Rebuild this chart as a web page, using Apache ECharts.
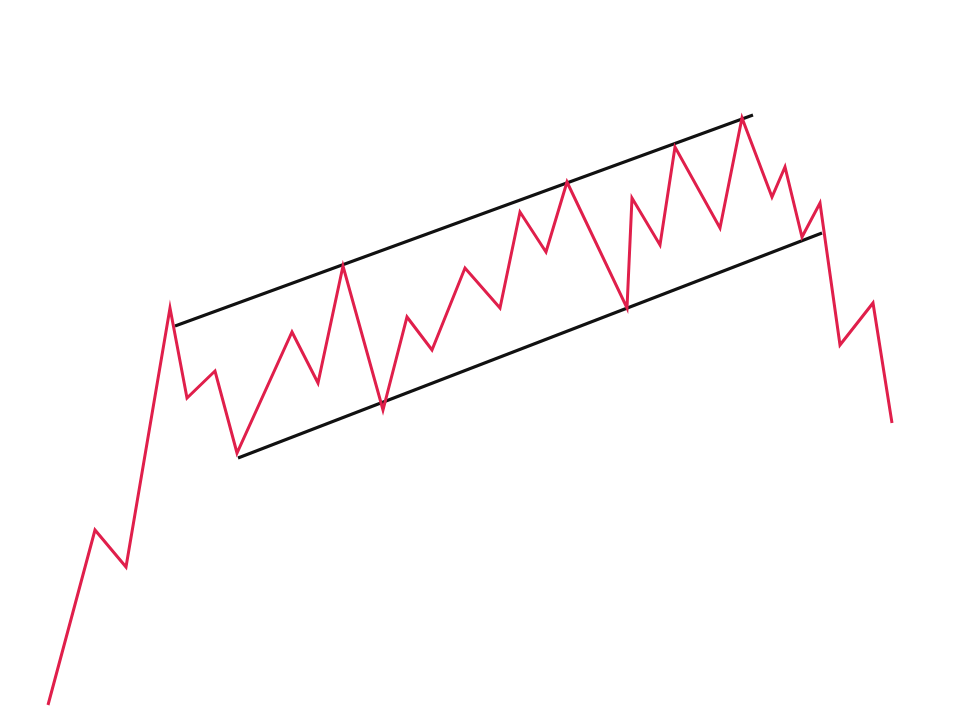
<!DOCTYPE html>
<html>
<head>
<meta charset="utf-8">
<script src="https://cdn.jsdelivr.net/npm/echarts@6/dist/echarts.min.js"></script>
<style>html,body{margin:0;padding:0;background:#fff}#c{width:975px;height:708px}</style>
</head>
<body>
<div id="c"></div>
<script>
// Time positions and price values of the price path
var priceTime = [48, 95, 126, 170, 187, 215, 237, 292, 318, 343, 383, 407, 432, 465, 500, 520, 546, 567, 627, 632, 660, 675, 720, 742, 772, 785, 802, 820, 840, 873, 892];
var priceValue = [3, 178, 141, 400, 310, 337, 255, 376, 325, 442, 298, 391, 358, 440, 400, 496, 456, 526, 400, 510, 463, 561, 480, 590, 511, 541, 471, 505, 363, 405, 285];
// Channel trendlines
var upperTime = [175, 753];
var upperValue = [382, 593];
var lowerTime = [238, 822];
var lowerValue = [250, 475];

function pairs(xs, ys) { return xs.map(function (x, i) { return [x, ys[i]]; }); }

var chart = echarts.init(document.getElementById('c'));
chart.setOption({
  animation: false,
  backgroundColor: '#ffffff',
  grid: { left: 0, right: 0, top: 0, bottom: 0 },
  xAxis: { type: 'value', min: 0, max: 975, show: false },
  yAxis: { type: 'value', min: 0, max: 708, show: false },
  series: [
    { type: 'line', data: pairs(upperTime, upperValue), symbol: 'none',
      lineStyle: { color: '#111111', width: 3 }, z: 2 },
    { type: 'line', data: pairs(lowerTime, lowerValue), symbol: 'none',
      lineStyle: { color: '#111111', width: 3 }, z: 2 },
    { type: 'line', data: pairs(priceTime, priceValue), symbol: 'none',
      lineStyle: { color: '#e01f4b', width: 3, join: 'miter' }, z: 3 }
  ]
});
</script>
</body>
</html>
